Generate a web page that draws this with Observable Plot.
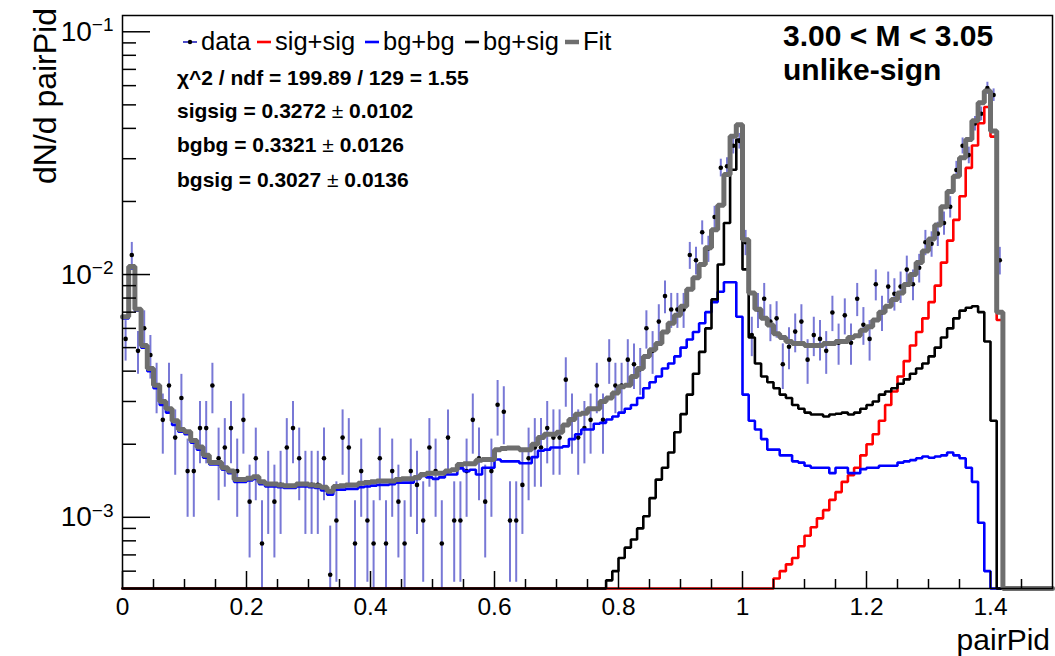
<!DOCTYPE html>
<html><head><meta charset="utf-8">
<script src="https://cdn.jsdelivr.net/npm/d3@7"></script>
<script src="https://cdn.jsdelivr.net/npm/@observablehq/plot@0.6"></script>
<style>
body{margin:0;background:#fff;}
#chart{width:1055px;height:656px;}
</style></head><body><div id="chart"></div>
<script>
// ---- binning ----
const binWidth = 0.01;
const nBins = 150;
const xDomain = [0, 1.5];
const yDomain = [5.09e-4, 0.1167];

// ---- axis ticks ----
const xMajorTicks = [0, 0.2, 0.4, 0.6, 0.8, 1, 1.2, 1.4];
const xMinorTicks = [0.05,0.1,0.15,0.25,0.3,0.35,0.45,0.5,0.55,0.65,0.7,0.75,0.85,0.9,0.95,1.05,1.1,1.15,1.25,1.3,1.35,1.45];
const yMajorTicks = [0.001, 0.01, 0.1];
const yTickLabels = ["10^\u22123", "10^\u22122", "10^\u22121"];
const yMinorTicks = [6e-4,7e-4,8e-4,9e-4,2e-3,3e-3,4e-3,5e-3,6e-3,7e-3,8e-3,9e-3,2e-2,3e-2,4e-2,5e-2,6e-2,7e-2,8e-2,9e-2];

// ---- histograms (first non-empty bin + contents) ----
const fitStart = 0;
const fitValues = [
 0.0067,0.0108,0.0072,0.0051,0.0041,0.0035,0.0030,0.0028,0.0025,0.0023,
 0.00225,0.00207,0.00195,0.0018,0.00168,0.00168,0.0016,0.00155,0.00143,0.00143,
 0.00145,0.00147,0.0014,0.00137,0.00137,0.00136,0.00135,0.00135,0.00137,0.00137,
 0.00136,0.00135,0.00133,0.00128,0.00134,0.00135,0.00136,0.00136,0.00138,0.00139,
 0.0014,0.00141,0.00141,0.00141,0.00143,0.00144,0.00144,0.00146,0.0015,0.00152,
 0.00152,0.00152,0.00155,0.00157,0.00165,0.00166,0.00166,0.00172,0.00173,0.00173,
 0.0019,0.00192,0.00193,0.00193,0.0019,0.0019,0.002,0.00213,0.0022,0.0022,
 0.00224,0.0024,0.00253,0.00266,0.00268,0.0028,0.0028,0.003,0.0031,0.00325,
 0.00345,0.0035,0.0038,0.0041,0.0046,0.0049,0.0052,0.0058,0.0063,0.0068,
 0.0074,0.0087,0.0097,0.0110,0.0129,0.0153,0.0193,0.0258,0.0371,0.0414,
 0.0139,0.0084,0.0072,0.0066,0.0062,0.0057,0.0055,0.0053,0.0052,0.0052,
 0.0051,0.0051,0.0051,0.0052,0.0052,0.0053,0.0053,0.0055,0.0056,0.0059,
 0.0061,0.0065,0.0070,0.0074,0.0079,0.0084,0.0091,0.0100,0.0112,0.0125,
 0.0140,0.0160,0.0190,0.0220,0.0254,0.0303,0.0360,0.0430,0.0510,0.0570,
 0.0390,0.0070];

const bgbgStart = 0;
const bgbgValues = [
 0.0066,0.0106,0.0071,0.0050,0.0040,0.0034,0.0029,0.0027,0.0024,0.00225,
 0.0022,0.00203,0.0019,0.00176,0.00165,0.00165,0.00157,0.00152,0.0014,0.0014,
 0.00142,0.00144,0.00137,0.00134,0.00134,0.00133,0.00132,0.00132,0.00134,0.00134,
 0.00133,0.00132,0.00129,0.00124,0.0013,0.0013,0.00131,0.00131,0.00133,0.00134,
 0.00135,0.00136,0.00136,0.00137,0.00139,0.00139,0.00139,0.00144,0.00148,0.00146,
 0.00144,0.00146,0.0015,0.0015,0.00159,0.00155,0.00157,0.0015,0.0016,0.0016,
 0.00173,0.0017,0.0017,0.0017,0.00167,0.00167,0.00177,0.00188,0.0019,0.00194,
 0.00194,0.00196,0.0021,0.0022,0.0023,0.0023,0.00243,0.00245,0.00253,0.0026,
 0.0027,0.0028,0.0029,0.0031,0.0034,0.0036,0.0038,0.0041,0.0043,0.0046,
 0.0050,0.0054,0.0058,0.0063,0.0070,0.0077,0.0085,0.0093,0.0093,0.0067,
 0.0032,0.0025,0.0023,0.0021,0.0019,0.0019,0.0018,0.0018,0.0017,0.00168,
 0.00163,0.0016,0.0016,0.0016,0.00152,0.0016,0.0016,0.00152,0.00152,0.00158,
 0.0016,0.0016,0.00163,0.00163,0.00163,0.00168,0.0017,0.00172,0.00175,0.00178,
 0.00176,0.00178,0.0018,0.00185,0.0018,0.00175,0.0016,0.0014,0.00095,0.0006];

const bgsigStart = 78;
const bgsigValues = [
 0.00055,0.0006,
 0.00068,0.00075,0.00081,0.0009,0.00101,0.0012,0.00143,0.0016,0.00185,0.00224,
 0.00266,0.0032,0.0039,0.0048,0.0060,0.0079,0.0110,0.0163,0.0270,0.0360,
 0.0105,0.0055,0.0043,0.0038,0.0036,0.0034,0.0032,0.0031,0.0029,0.0028,
 0.0027,0.00265,0.00265,0.0026,0.00265,0.00267,0.0027,0.00265,0.0027,0.0028,
 0.0029,0.0030,0.0032,0.0033,0.0034,0.00355,0.0037,0.0039,0.0041,0.0043,
 0.0046,0.0050,0.0055,0.0060,0.0066,0.0071,0.0073,0.0074,0.0070,0.0053,
 0.0025];

const sigsigStart = 105;
const sigsigValues = [
 0.00056,0.0006,0.00064,0.00068,0.00076,
 0.00084,0.00091,0.00099,0.00107,0.00118,0.00127,0.0014,0.00149,0.0016,0.0018,
 0.002,0.0022,0.0025,0.0029,0.0033,0.0038,0.0044,0.0051,0.0058,0.0066,
 0.0077,0.0090,0.0112,0.0138,0.0168,0.021,0.0275,0.034,0.042,0.049,
 0.037,0.0065];

// ---- data points (bins 0..141): value and error ----
const dataValues = [
 0.00543,0.01203,0.00485,0.00601,0.00466,0.00349,0.00252,0.00349,0.00213,0.0031,
 0.00155,0.00155,0.00233,0.00233,0.00349,0.00175,0.00194,0.00233,0.00155,0.00252,
 0.00116,0.00175,0.00078,0.00136,0.00116,0.00136,0.00194,0.00233,0.00175,0.00136,
 0.00136,0.00136,0.00175,0.00058,0.00097,0.00213,0.00194,0.00078,0.00155,0.00097,
 0.00078,0.00175,0.00078,0.00155,0.00116,0.00078,0.00155,0.00136,0.00097,0.00194,
 0.00155,0.00078,0.00213,0.00097,0.00097,0.00155,0.00252,0.00175,0.00116,0.00155,
 0.00291,0.00272,0.00097,0.00097,0.00136,0.00175,0.00194,0.00194,0.00233,0.00213,
 0.00213,0.00369,0.00252,0.00213,0.00233,0.00252,0.00349,0.00252,0.00446,0.00349,
 0.00349,0.00446,0.00427,0.00407,0.00601,0.00485,0.0064,0.00815,0.00718,0.00718,
 0.00718,0.01203,0.01145,0.01494,0.0128,0.01727,0.02755,0.02794,0.03395,0.0355,
 0.01358,0.00563,0.00718,0.00795,0.0064,0.0066,0.00427,0.00504,0.00582,0.0064,
 0.00446,0.00563,0.00543,0.00485,0.00698,0.00524,0.00679,0.00524,0.00795,0.00621,
 0.00543,0.00912,0.00698,0.00892,0.00834,0.00892,0.01048,0.00912,0.01067,0.01358,
 0.01339,0.01474,0.0163,0.01901,0.02697,0.03395,0.03104,0.0419,0.04598,0.05859,
 0.0549,0.01145];
const dataErrors = [
 0.00103,0.00153,0.00097,0.00108,0.00095,0.00082,0.0007,0.00082,0.00064,0.00078,
 0.00055,0.00055,0.00067,0.00067,0.00082,0.00058,0.00061,0.00067,0.00055,0.0007,
 0.00048,0.00058,0.00039,0.00051,0.00048,0.00051,0.00061,0.00067,0.00058,0.00051,
 0.00051,0.00051,0.00058,0.00034,0.00043,0.00064,0.00061,0.00039,0.00055,0.00043,
 0.00039,0.00058,0.00039,0.00055,0.00048,0.00039,0.00055,0.00051,0.00043,0.00061,
 0.00055,0.00039,0.00064,0.00043,0.00043,0.00055,0.0007,0.00058,0.00048,0.00055,
 0.00075,0.00073,0.00043,0.00043,0.00051,0.00058,0.00061,0.00061,0.00067,0.00064,
 0.00064,0.00085,0.0007,0.00064,0.00067,0.0007,0.00082,0.0007,0.00093,0.00082,
 0.00082,0.00093,0.00091,0.00089,0.00108,0.00097,0.00111,0.00126,0.00118,0.00118,
 0.00118,0.00153,0.00149,0.0017,0.00158,0.00183,0.00231,0.00233,0.00257,0.00262,
 0.00162,0.00104,0.00118,0.00124,0.00111,0.00113,0.00091,0.00099,0.00106,0.00111,
 0.00093,0.00104,0.00103,0.00097,0.00116,0.00101,0.00115,0.00101,0.00124,0.0011,
 0.00103,0.00133,0.00116,0.00132,0.00127,0.00132,0.00143,0.00133,0.00144,0.00162,
 0.00161,0.00169,0.00178,0.00192,0.00229,0.00257,0.00245,0.00285,0.00299,0.00337,
 0.00326,0.00149];

// ---- legend / text ----
const legendLabels = ["data", "sig+sig", "bg+bg", "bg+sig", "Fit"];
const legendColors = ["#4b4bc8", "#ff0000", "#0000ff", "#000000", "#6e6e6e"];
const legendTextX = [201, 275, 383, 483, 583];
const statsLines = [
  ["\u03C7^2 / ndf = 199.89 / 129 = 1.55"],
  ["sigsig = 0.3272 ", "\u00B1", " 0.0102"],
  ["bgbg = 0.3321 ", "\u00B1", " 0.0126"],
  ["bgsig = 0.3027 ", "\u00B1", " 0.0136"]];
const titleLines = ["3.00 < M < 3.05", "unlike-sign"];
const xTitle = "pairPid";
const yTitle = "dN/d pairPid";

// ---- build ----
function histPoints(start, values) {
  const pts = [];
  for (let i = 0; i < nBins; i++) {
    const j = i - start;
    const v = (j >= 0 && j < values.length) ? values[j] : 0;
    const vv = Math.max(v, yDomain[0]);
    pts.push({x: i * binWidth, y: vv}, {x: (i + 1) * binWidth, y: vv});
  }
  return pts;
}
const dataRows = dataValues.map((v, i) => ({x: (i + 0.5) * binWidth, v, lo: v - dataErrors[i], hi: v + dataErrors[i]}));

const W = 1055, H = 656, mL = 122, mR = 3, mT = 15, mB = 68;
const frameW = W - mL - mR, frameH = H - mT - mB;

const plot = Plot.plot({
  width: W, height: H,
  marginLeft: mL, marginRight: mR, marginTop: mT, marginBottom: mB,
  style: {fontFamily: "'Liberation Sans', Arial, Helvetica, sans-serif", background: "#fff", overflow: "visible"},
  x: {domain: xDomain, axis: null},
  y: {type: "log", domain: yDomain, clamp: true, axis: null},
  marks: [
    Plot.ruleX(dataRows, {x: "x", y1: "lo", y2: "hi", stroke: "#4b4bc8", strokeWidth: 2, strokeOpacity: 0.75}),
    Plot.dot(dataRows, {x: "x", y: "v", r: 2.3, fill: "#000", stroke: "none"}),
    Plot.line(histPoints(sigsigStart, sigsigValues), {x: "x", y: "y", stroke: "#ff0000", strokeWidth: 2.6, strokeLinejoin: "miter"}),
    Plot.line(histPoints(bgbgStart, bgbgValues), {x: "x", y: "y", stroke: "#0000ff", strokeWidth: 2.6, strokeLinejoin: "miter"}),
    Plot.line(histPoints(bgsigStart, bgsigValues), {x: "x", y: "y", stroke: "#000000", strokeWidth: 2.6, strokeLinejoin: "miter"}),
    Plot.line(histPoints(fitStart, fitValues), {x: "x", y: "y", stroke: "#6e6e6e", strokeWidth: 5, strokeLinejoin: "miter"}),
    Plot.tickX(xMajorTicks, {x: d => d, insetTop: frameH - 17, stroke: "#000", strokeWidth: 1.5}),
    Plot.tickX(xMinorTicks, {x: d => d, insetTop: frameH - 9, stroke: "#000", strokeWidth: 1.5}),
    Plot.tickY(yMajorTicks, {y: d => d, insetRight: frameW - 28, stroke: "#000", strokeWidth: 1.5}),
    Plot.tickY(yMinorTicks, {y: d => d, insetRight: frameW - 14, stroke: "#000", strokeWidth: 1.5}),
    Plot.axisX(xMajorTicks, {tickSize: 0, tickPadding: 9, fontSize: 24.5, fill: "#000", tickFormat: d => String(d), label: null}),
    Plot.axisY(yMajorTicks, {tickSize: 0, tickPadding: 9, fontSize: 28, fill: "#000", tickFormat: d => yTickLabels[yMajorTicks.indexOf(d)], label: null}),
    Plot.frame({stroke: "#000", strokeWidth: 1.5})
  ]
});
document.getElementById("chart").appendChild(plot);

const svg = d3.select(plot);
// superscripts on y tick labels
svg.selectAll('g[aria-label="y-axis tick label"] text').each(function() {
  const s = this.textContent; const parts = s.split("^");
  const t = d3.select(this); t.text(null);
  t.append("tspan").text(parts[0]);
  t.append("tspan").attr("dy", "-0.5em").attr("font-size", "0.68em").text(parts[1]);
});

const font = "'Liberation Sans', Arial, Helvetica, sans-serif";
// axis titles
svg.append("text").attr("x", 1050).attr("y", 650).attr("text-anchor", "end")
  .attr("font-family", font).attr("font-size", 30).attr("fill", "#000").text(xTitle);
svg.append("text").attr("transform", "translate(56,8) rotate(-90)").attr("text-anchor", "end")
  .attr("font-family", font).attr("font-size", 32).attr("fill", "#000").text(yTitle);

// legend
const lg = svg.append("g").attr("font-family", font).attr("font-size", 25.5).attr("text-anchor", "start");
legendLabels.forEach((lab, i) => {
  const tx = legendTextX[i];
  const sw = i === 4 ? 4.5 : (i === 0 ? 2 : 2.6);
  lg.append("line").attr("x1", tx - 18).attr("x2", tx - 4).attr("y1", 42).attr("y2", 42)
    .attr("stroke", legendColors[i]).attr("stroke-width", sw);
  if (i === 0) lg.append("circle").attr("cx", tx - 11).attr("cy", 42).attr("r", 2.2).attr("fill", "#000");
  lg.append("text").attr("x", tx).attr("y", 50).attr("text-anchor", "start").attr("fill", "#000").text(lab);
});

// fit statistics
const statY = [85, 118, 152, 187];
const st = svg.append("g").attr("font-family", font).attr("font-size", 21).attr("font-weight", "bold")
  .attr("fill", "#000").attr("text-anchor", "start");
statsLines.forEach((parts, i) => {
  const t = st.append("text").attr("x", 177).attr("y", statY[i]).attr("text-anchor", "start").style("white-space", "pre");
  parts.forEach(p => {
    const ts = t.append("tspan").text(p);
    if (p === "\u00B1") ts.attr("font-weight", "normal");
  });
});

// title block
const tb = svg.append("g").attr("font-family", font).attr("font-size", 30).attr("font-weight", "bold")
  .attr("fill", "#000").attr("text-anchor", "start");
tb.append("text").attr("x", 783).attr("y", 46).attr("text-anchor", "start").text(titleLines[0]);
tb.append("text").attr("x", 783).attr("y", 80).attr("text-anchor", "start").text(titleLines[1]);
</script>
</body></html>
